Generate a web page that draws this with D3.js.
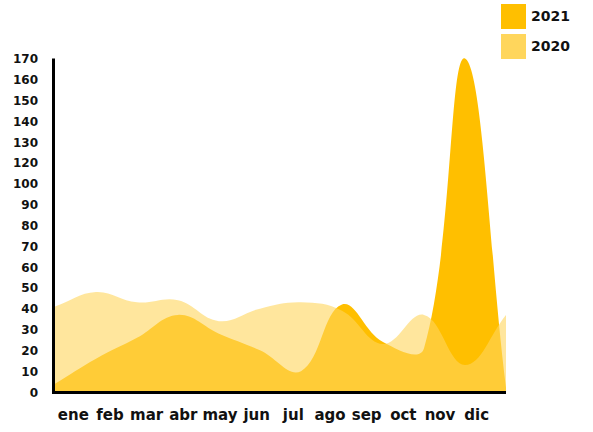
<!DOCTYPE html>
<html>
<head>
<meta charset="utf-8">
<script src="https://cdn.jsdelivr.net/npm/d3@7"></script>
<style>
  html, body { margin: 0; padding: 0; background: #fff; }
  svg { display: block; }
  text { font-family: "DejaVu Sans", sans-serif; font-weight: bold; fill: #111; }
</style>
</head>
<body>
<svg id="chart" width="593" height="432"></svg>
<script>
// Monthly totals, 2021 vs 2020
const months = ["ene", "feb", "mar", "abr", "may", "jun", "jul", "ago", "sep", "oct", "nov", "dic"];
const values2021 = [4, 16, 26, 37, 28, 20, 10, 42, 24, 21, 170, 2];
const values2020 = [41, 48, 43, 44, 34, 40, 43, 39, 23, 37, 13, 37];
const yTickValues = [0, 10, 20, 30, 40, 50, 60, 70, 80, 90, 100, 120, 130, 140, 150, 160, 170];
const seriesNames = ["2021", "2020"];

const colors = { "2021": "#FFBF00", "2020": "#FFD65C" };

const svg = d3.select("#chart");
const plot = { left: 55, right: 506, top: 58.5, bottom: 392, labelRight: 495 };

// Y ticks are evenly spaced, one slot per label
const slot = d3.scaleLinear().domain([0, yTickValues.length - 1]).range([plot.bottom, plot.top]);
const y = d3.scaleLinear()
  .domain(yTickValues)
  .range(yTickValues.map((d, i) => slot(i)));

const x = d3.scalePoint().domain(months).range([plot.left, plot.right]);
const xLabel = d3.scaleBand().domain(months).range([plot.left, plot.labelRight]);

// Distance-weighted cubic spline (tension 0.4) as a d3 curve factory
function TensionSpline(context, tension) {
  this._context = context;
  this._t = tension;
}
TensionSpline.prototype = {
  areaStart() { this._line = 0; },
  areaEnd() { this._line = NaN; },
  lineStart() { this._pts = []; },
  point(px, py) { this._pts.push([+px, +py]); },
  lineEnd() {
    const p = this._pts, n = p.length, ctx = this._context, t = this._t;
    if (n) {
      if (this._line) ctx.lineTo(p[0][0], p[0][1]);
      else ctx.moveTo(p[0][0], p[0][1]);
      if (n === 2) {
        ctx.lineTo(p[1][0], p[1][1]);
      } else if (n > 2) {
        const prevCp = [], nextCp = [];
        for (let i = 0; i < n; i++) {
          const a = p[Math.max(i - 1, 0)], m = p[i], b = p[Math.min(i + 1, n - 1)];
          const d01 = Math.hypot(m[0] - a[0], m[1] - a[1]);
          const d12 = Math.hypot(b[0] - m[0], b[1] - m[1]);
          let s01 = d01 / (d01 + d12), s12 = d12 / (d01 + d12);
          if (!isFinite(s01)) s01 = 0;
          if (!isFinite(s12)) s12 = 0;
          const fa = t * s01, fb = t * s12;
          prevCp.push([m[0] - fa * (b[0] - a[0]), m[1] - fa * (b[1] - a[1])]);
          nextCp.push([m[0] + fb * (b[0] - a[0]), m[1] + fb * (b[1] - a[1])]);
        }
        for (let i = 0; i < n - 1; i++) {
          ctx.bezierCurveTo(nextCp[i][0], nextCp[i][1], prevCp[i + 1][0], prevCp[i + 1][1], p[i + 1][0], p[i + 1][1]);
        }
      }
    }
    if (this._line || (this._line !== 0 && n === 1)) ctx.closePath();
    this._line = 1 - this._line;
  }
};
const curveTension = ctx => new TensionSpline(ctx, 0.4);

const area = d3.area()
  .x((d, i) => x(months[i]))
  .y0(y(0) - 1)
  .y1(d => y(d))
  .curve(curveTension);

// 2021 underneath, 2020 translucent on top
svg.append("path")
  .datum(values2021)
  .attr("d", area)
  .attr("fill", colors["2021"]);

svg.append("path")
  .datum(values2020)
  .attr("d", area)
  .attr("fill", colors["2020"])
  .attr("fill-opacity", 0.6);

// Axes
const yAxis = d3.axisLeft(y).tickValues(yTickValues).tickSize(0).tickPadding(0).tickFormat(d3.format("d"));
const gy = svg.append("g").attr("transform", `translate(${plot.left - 2},0)`).call(yAxis);
gy.select(".domain").remove();
gy.selectAll("text")
  .attr("x", -15)
  .attr("dy", "0.35em")
  .style("font-size", "12px")
  .style("font-family", "'DejaVu Sans', sans-serif")
  .style("font-weight", "bold")
  .attr("fill", "#111");

const xAxis = d3.axisBottom(xLabel).tickSize(0).tickPadding(0);
const gx = svg.append("g").attr("transform", `translate(0,${plot.bottom})`).call(xAxis);
gx.select(".domain").remove();
gx.selectAll("text")
  .attr("y", 23)
  .attr("dy", "0.3em")
  .style("font-size", "15px")
  .style("font-family", "'DejaVu Sans', sans-serif")
  .style("font-weight", "bold")
  .attr("fill", "#111");

// Axis lines
svg.append("line")
  .attr("x1", plot.left - 1.5).attr("x2", plot.left - 1.5)
  .attr("y1", plot.top).attr("y2", plot.bottom + 2)
  .attr("stroke", "#000").attr("stroke-width", 3);
svg.append("line")
  .attr("x1", plot.left - 3).attr("x2", plot.right)
  .attr("y1", plot.bottom + 0.5).attr("y2", plot.bottom + 0.5)
  .attr("stroke", "#000").attr("stroke-width", 3);

// Legend
const legend = svg.append("g").attr("transform", "translate(501,4)");
seriesNames.forEach((name, i) => {
  const g = legend.append("g").attr("transform", `translate(0,${i * 30})`);
  g.append("rect").attr("width", 25).attr("height", 25).attr("fill", colors[name]);
  g.append("text")
    .attr("x", 30).attr("y", 12.5).attr("dy", "0.35em")
    .style("font-size", "14px")
    .text(name);
});
</script>
</body>
</html>
